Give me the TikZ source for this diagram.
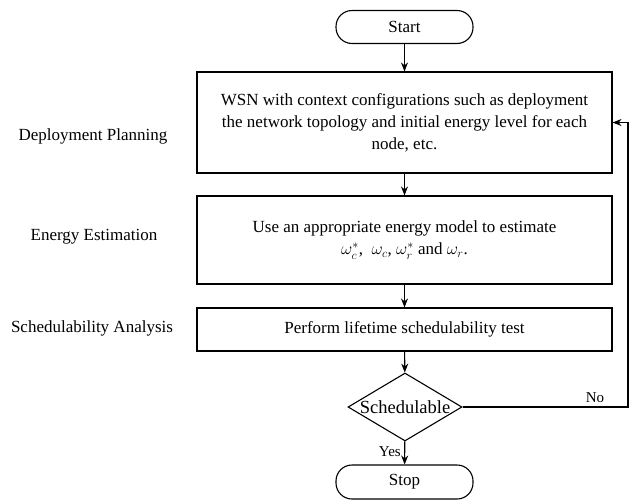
\documentclass[tikz,border=0pt]{standalone}
\usepackage{fontspec}
\setmainfont{Liberation Serif}
\usetikzlibrary{shapes.geometric,arrows.meta}
\begin{document}
\begin{tikzpicture}[x=1pt,y=-1pt,
  every node/.style={font=\fontsize{17}{22}\selectfont},
  terminal/.style={draw,line width=1.1pt,minimum width=137pt,minimum height=33pt,rounded corners=16pt,inner sep=0pt},
  procbox/.style={draw,line width=1.1pt,minimum width=415pt,inner sep=0pt,align=center},
  decision/.style={draw,line width=1.1pt,diamond,minimum width=114pt,minimum height=68pt,inner sep=0pt},
  phase/.style={align=center},
  flow/.style={line width=1.1pt,-{Stealth[length=9pt,width=7pt]}}]
\useasboundingbox (0,0) rectangle (629,501);
\node[terminal] (start) at (404.5,27) {Start};
\node[procbox,minimum height=101pt] (wsn) at (404.5,122.5) {WSN with context configurations such as deployment\\the network topology and initial energy level for each\\node, etc.};
\node[procbox,minimum height=88pt] (est) at (404.5,240) {Use an appropriate energy model to estimate\\$\omega_c^{*}$,\ \ $\omega_c$, $\omega_r^{*}$ and $\omega_r$.};
\node[procbox,minimum height=43pt] (sch) at (404.5,329.5) {Perform lifetime schedulability test};
\node[decision] (dia) at (405,407) {\makebox[0pt]{\fontsize{18.5}{22}\selectfont Schedulable}};
\node[terminal,minimum height=34pt] (stop) at (404.5,482) {Stop};
\node[phase] (dp) at (93,136) {Deployment Planning};
\node[phase] (ee) at (94,237) {Energy Estimation};
\node[phase] (sa) at (92,328) {Schedulability Analysis};
\coordinate (turn) at (628,407);
\draw[flow] (start) -- (wsn);
\draw[flow] (wsn) -- (est);
\draw[flow] (est) -- (sch);
\draw[flow] (sch) -- (dia);
\draw[flow] (dia) -- node[left,pos=0.45,font=\fontsize{15}{18}\selectfont] {Yes} (stop);
\draw[flow] (dia.east) -- node[above,pos=0.8,font=\fontsize{15}{18}\selectfont] {No} (turn) |- (wsn.east);
\end{tikzpicture}
\end{document}
